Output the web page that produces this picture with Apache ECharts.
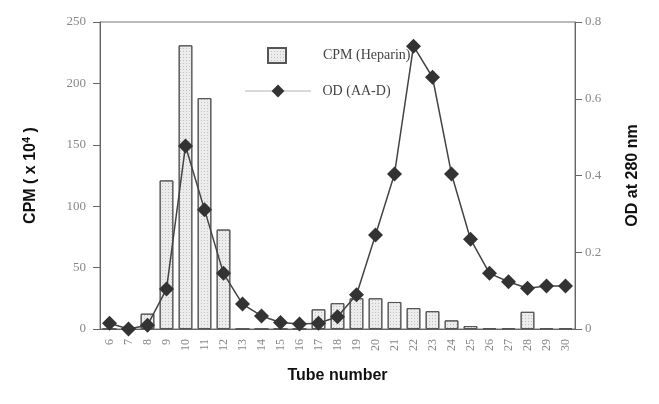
<!DOCTYPE html>
<html>
<head>
<meta charset="utf-8">
<script src="https://cdn.jsdelivr.net/npm/echarts@6/dist/echarts.min.js"></script>
<style>
  html, body { margin: 0; padding: 0; background: #fff; }
  #chart { width: 659px; height: 404px; }
</style>
</head>
<body>
<div id="chart"></div>
<script>
// tube numbers
var tubes = ["6", "7", "8", "9", "10", "11", "12", "13", "14", "15", "16", "17", "18",
  "19", "20", "21", "22", "23", "24", "25", "26", "27", "28", "29", "30"];
// CPM (x10^4), heparin
var cpmHeparin = [0, 0, 12.5, 121, 231, 188, 81, 0, 0, 0, 0, 16, 21,
  25, 25, 22, 17, 14.5, 7, 2.4, 0.6, 0.6, 14, 0.6, 0.6];
// OD at 280 nm, AA-D
var odAAD = [0.015, 0, 0.01, 0.104, 0.477, 0.311, 0.145, 0.065, 0.034, 0.017, 0.013, 0.015, 0.032,
  0.089, 0.245, 0.404, 0.737, 0.656, 0.404, 0.234, 0.145, 0.123, 0.106, 0.112, 0.112];
var leftTicks = [0, 50, 100, 150, 200, 250];
var rightTicks = [0, 0.2, 0.4, 0.6, 0.8];

var chart = echarts.init(document.getElementById("chart"));
var serif = "Liberation Serif";
var sans = "Liberation Sans";

var option = {
  animation: false,
  grid: {
    left: 100, right: 84, top: 22, bottom: 75,
    show: true, borderColor: "#777", borderWidth: 1
  },
  legend: [
    {
      data: [{ name: "CPM (Heparin)", icon: "rect" }],
      left: 262, top: 42,
      itemWidth: 18, itemHeight: 15,
      textStyle: { fontFamily: serif, fontSize: 14, color: "#444", padding: [0, 0, 0, 32] }
    },
    {
      data: ["OD (AA-D)"],
      left: 240, top: 79,
      itemWidth: 65, itemHeight: 16,
      lineStyle: { type: "dotted", width: 1, color: "#666" },
      textStyle: { fontFamily: serif, fontSize: 14, color: "#444", padding: [0, 0, 0, 7] }
    }
  ],
  xAxis: {
    type: "category",
    data: tubes,
    name: "Tube number",
    nameLocation: "middle",
    nameGap: 39,
    nameTextStyle: { fontFamily: sans, fontWeight: "bold", fontSize: 16, color: "#111" },
    axisLine: { lineStyle: { color: "#666" } },
    axisTick: { alignWithLabel: true, length: 6, lineStyle: { color: "#666" } },
    axisLabel: { rotate: 90, margin: 10, fontFamily: serif, fontSize: 12, color: "#888" },
    splitLine: { show: false }
  },
  yAxis: [
    {
      type: "value",
      min: 0, max: 250, interval: 50,
      name: "CPM ( x 10{sup|4} )",
      nameLocation: "middle",
      nameRotate: 90,
      nameGap: 60,
      nameTextStyle: {
        fontFamily: sans, fontWeight: "bold", fontSize: 16, color: "#111",
        rich: { sup: { fontFamily: sans, fontWeight: "bold", fontSize: 11, color: "#111", verticalAlign: "top", padding: [0, 0, 8, 0] } }
      },
      axisLine: { show: true, lineStyle: { color: "#666" } },
      axisTick: { show: true, length: 7, lineStyle: { color: "#666" } },
      axisLabel: {
        margin: 14, fontFamily: serif, fontSize: 13, color: "#888",
        formatter: function (v) { return leftTicks.indexOf(v) >= 0 ? String(v) : ""; }
      },
      splitLine: { show: false }
    },
    {
      type: "value",
      min: 0, max: 0.8, interval: 0.2,
      position: "right",
      name: "OD at 280 nm",
      nameLocation: "middle",
      nameRotate: 90,
      nameGap: 50,
      nameTextStyle: { fontFamily: sans, fontWeight: "bold", fontSize: 16, color: "#111" },
      axisLine: { show: true, lineStyle: { color: "#666" } },
      axisTick: { show: true, length: 7, lineStyle: { color: "#666" } },
      axisLabel: {
        margin: 10, fontFamily: serif, fontSize: 13, color: "#888",
        formatter: function (v) {
          var r = Math.round(v * 10) / 10;
          return rightTicks.indexOf(r) >= 0 ? (r === 0 ? "0" : r.toFixed(1)) : "";
        }
      },
      splitLine: { show: false }
    }
  ],
  series: [
    {
      name: "CPM (Heparin)",
      type: "bar",
      yAxisIndex: 0,
      barWidth: "72%",
      data: cpmHeparin,
      itemStyle: {
        color: "#ececec",
        borderColor: "#555",
        borderWidth: 1,
        decal: {
          symbol: "rect", symbolSize: 1,
          dashArrayX: [1, 2], dashArrayY: [1, 2],
          color: "rgba(0,0,0,0.18)"
        }
      }
    },
    {
      name: "OD (AA-D)",
      type: "line",
      yAxisIndex: 1,
      data: odAAD,
      symbol: "diamond",
      symbolSize: 15,
      lineStyle: { color: "#444", width: 1.5 },
      itemStyle: { color: "#333" },
      z: 5
    }
  ]
};

chart.setOption(option);
</script>
</body>
</html>
